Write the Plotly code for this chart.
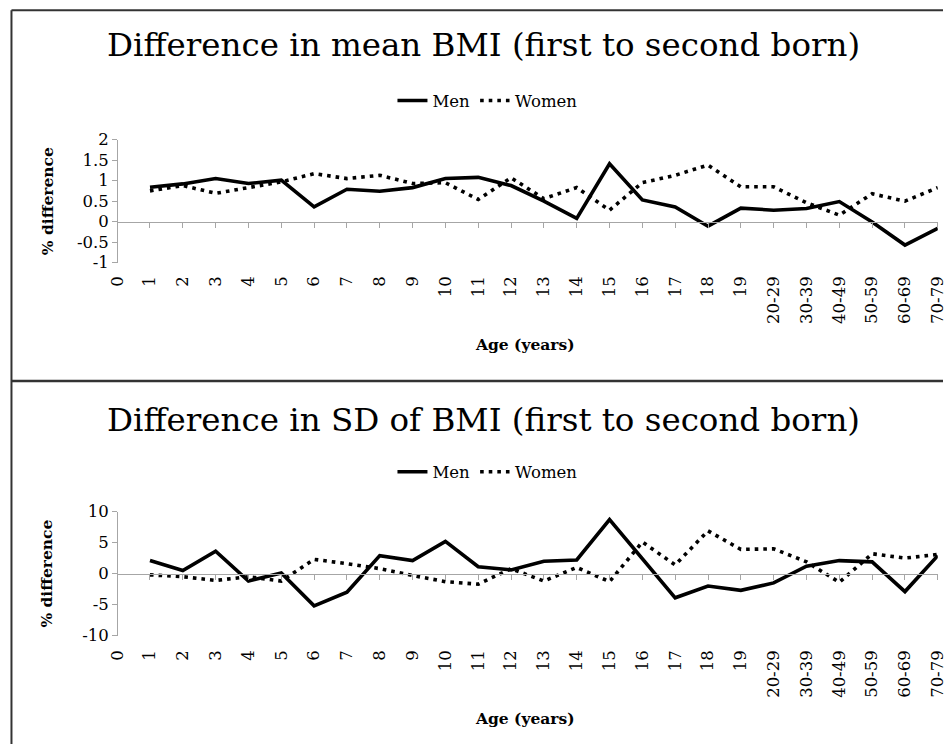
import plotly.graph_objects as go

categories = ["0", "1", "2", "3", "4", "5", "6", "7", "8", "9", "10", "11", "12",
              "13", "14", "15", "16", "17", "18", "19", "20-29", "30-39", "40-49",
              "50-59", "60-69", "70-79"]

# values start at age 1 (no value for age 0)
mean_men = [None, 0.84, 0.92, 1.05, 0.93, 1.01, 0.36, 0.79, 0.74, 0.83, 1.05, 1.08, 0.88,
            0.50, 0.08, 1.41, 0.53, 0.36, -0.11, 0.33, 0.28, 0.32, 0.49, -0.01, -0.57, -0.16]
mean_women = [None, 0.75, 0.88, 0.69, 0.84, 0.97, 1.17, 1.05, 1.13, 0.93, 0.95, 0.54, 1.07,
              0.56, 0.83, 0.28, 0.95, 1.13, 1.38, 0.85, 0.85, 0.46, 0.16, 0.68, 0.50, 0.83]

sd_men = [None, 2.1, 0.5, 3.6, -1.2, 0.1, -5.2, -3.0, 2.9, 2.1, 5.2, 1.1, 0.6,
          2.0, 2.2, 8.7, 2.4, -3.9, -2.0, -2.7, -1.5, 1.2, 2.1, 1.9, -2.9, 2.9]
sd_women = [None, -0.2, -0.5, -1.1, -0.5, -1.2, 2.3, 1.6, 0.8, -0.3, -1.3, -1.7, 0.8,
            -1.2, 1.0, -1.3, 5.1, 1.4, 6.9, 3.9, 4.0, 1.9, -1.4, 3.2, 2.5, 3.1]

top_ticks = [-1, -0.5, 0, 0.5, 1, 1.5, 2]
top_ticktext = ["-1", "-0.5", "0", "0.5", "1", "1.5", "2"]
bot_ticks = [-10, -5, 0, 5, 10]
bot_ticktext = ["-10", "-5", "0", "5", "10"]

title_top = "Difference in mean BMI (first to second born)"
title_bot = "Difference in SD of BMI (first to second born)"
ytitle = "% difference"
xtitle = "Age (years)"

W, H = 952, 754
FONT = "DejaVu Serif"
GRAY = "#a6a6a6"

# the photographed page shows the figure inside a thin white frame;
# map target picture pixels to figure pixels
SX, SY = W / (W + 16), H / (H + 16)
OX, OY = 8 * SX, 8 * SY


def fx(p):
    return (p - OX) / SX


def fy(p):
    return (p - OY) / SY


def px_x(p):
    return fx(p) / W


def px_y(p):
    return (H - fy(p)) / H


# plot areas (picture pixels)
x_left, x_right = 115.4, 938.9
top_y_top, top_y_bot = 139.0, 262.7
bot_y_top, bot_y_bot = 512.7, 637.3
top_range = [-1, 2]
bot_range = [-10, 10]

top_dom = [px_y(top_y_bot), px_y(top_y_top)]
bot_dom = [px_y(bot_y_bot), px_y(bot_y_top)]


def zero_pos(dom, rng):
    return dom[0] + (0 - rng[0]) / (rng[1] - rng[0]) * (dom[1] - dom[0])


top_zero = zero_pos(top_dom, top_range)
bot_zero = zero_pos(bot_dom, bot_range)

fig = go.Figure()

men_line = dict(color="black", width=3.6)
women_line = dict(color="black", width=3.6, dash="3.6px,5px")

fig.add_trace(go.Scatter(x=categories, y=mean_men, mode="lines", name="Men",
                         line=men_line, xaxis="x", yaxis="y", legend="legend"))
fig.add_trace(go.Scatter(x=categories, y=mean_women, mode="lines", name="Women",
                         line=women_line, xaxis="x", yaxis="y", legend="legend"))
fig.add_trace(go.Scatter(x=categories, y=sd_men, mode="lines", name="Men",
                         line=men_line, xaxis="x2", yaxis="y2", legend="legend2"))
fig.add_trace(go.Scatter(x=categories, y=sd_women, mode="lines", name="Women",
                         line=women_line, xaxis="x2", yaxis="y2", legend="legend2"))

tickfont = dict(family=FONT, size=16.5, color="black")


def standoff(zero_frac, label_top_px):
    zero_fig = (1 - zero_frac) * H
    return int(round(fy(label_top_px) - zero_fig - 5 - 9.5))


xcommon = dict(type="category", categoryorder="array", categoryarray=categories,
               range=[0, len(categories) - 1], domain=[px_x(x_left), px_x(x_right)],
               showline=True, linecolor=GRAY, linewidth=1.2, ticks="outside",
               ticklen=5, tickcolor=GRAY, tickwidth=1.2, tickangle=-90,
               tickfont=tickfont, showgrid=False, zeroline=False, anchor="free")

ycommon = dict(showline=True, linecolor=GRAY, linewidth=1.2, ticks="outside", ticklen=5,
               tickcolor=GRAY, tickwidth=1.2, tickfont=tickfont, showgrid=False,
               zeroline=False, anchor="free", position=px_x(x_left))

legfont = dict(family=FONT, size=16.5, color="black")

fig.update_layout(
    width=W, height=H, autosize=False,
    margin=dict(l=0, r=0, t=0, b=0),
    paper_bgcolor="white", plot_bgcolor="white",
    showlegend=True,
    xaxis=dict(**xcommon, position=top_zero, ticklabelstandoff=standoff(top_zero, 276.7)),
    xaxis2=dict(**xcommon, position=bot_zero, ticklabelstandoff=standoff(bot_zero, 651.7)),
    yaxis=dict(**ycommon, domain=top_dom, range=top_range, tickvals=top_ticks,
               ticktext=top_ticktext),
    yaxis2=dict(**ycommon, domain=bot_dom, range=bot_range, tickvals=bot_ticks,
                ticktext=bot_ticktext),
    legend=dict(orientation="h", x=px_x(487), y=px_y(100), xanchor="center", yanchor="middle",
                font=legfont, bgcolor="rgba(0,0,0,0)", itemwidth=30, tracegroupgap=0),
    legend2=dict(orientation="h", x=px_x(487), y=px_y(473), xanchor="center", yanchor="middle",
                 font=legfont, bgcolor="rgba(0,0,0,0)", itemwidth=30, tracegroupgap=0),
)

# titles
for txt, yc in [(title_top, 44), (title_bot, 421)]:
    fig.add_annotation(text=txt, xref="paper", yref="paper", x=px_x(483), y=px_y(yc),
                       xanchor="center", yanchor="middle", showarrow=False,
                       font=dict(family=FONT, size=32.5, color="black"))

# axis titles
for yc in [(top_y_top + top_y_bot) / 2, (bot_y_top + bot_y_bot) / 2]:
    fig.add_annotation(text="<b>" + ytitle + "</b>", xref="paper", yref="paper",
                       x=px_x(45), y=px_y(yc), xanchor="center", yanchor="middle",
                       textangle=-90, showarrow=False,
                       font=dict(family=FONT, size=15.5, color="black"))
for yc in [345, 721]:
    fig.add_annotation(text="<b>" + xtitle + "</b>", xref="paper", yref="paper",
                       x=px_x(525), y=px_y(yc), xanchor="center", yanchor="middle",
                       showarrow=False, font=dict(family=FONT, size=15.5, color="black"))

# panel borders
border = dict(color="#333333", width=2)
left_x = 1.5 / W
fig.add_shape(type="line", xref="paper", yref="paper", x0=left_x, x1=1, y0=px_y(9), y1=px_y(9), line=border)
fig.add_shape(type="line", xref="paper", yref="paper", x0=left_x, x1=1, y0=px_y(381.5), y1=px_y(381.5),
              line=dict(color="#333333", width=2.5))
fig.add_shape(type="line", xref="paper", yref="paper", x0=left_x, x1=left_x, y0=0, y1=px_y(9), line=border)

post = ("document.documentElement.style.margin='0';document.documentElement.style.padding='0';"
        "document.documentElement.style.overflow='hidden';"
        "document.body.style.margin='0';document.body.style.padding='0';"
        "document.body.style.overflow='hidden';"
        "var gd=document.getElementById('{plot_id}');"
        "Plotly.relayout(gd,{width:%d,height:%d});" % (W, H))

fig.write_html("out.html", config={"displayModeBar": False}, post_script=post)
